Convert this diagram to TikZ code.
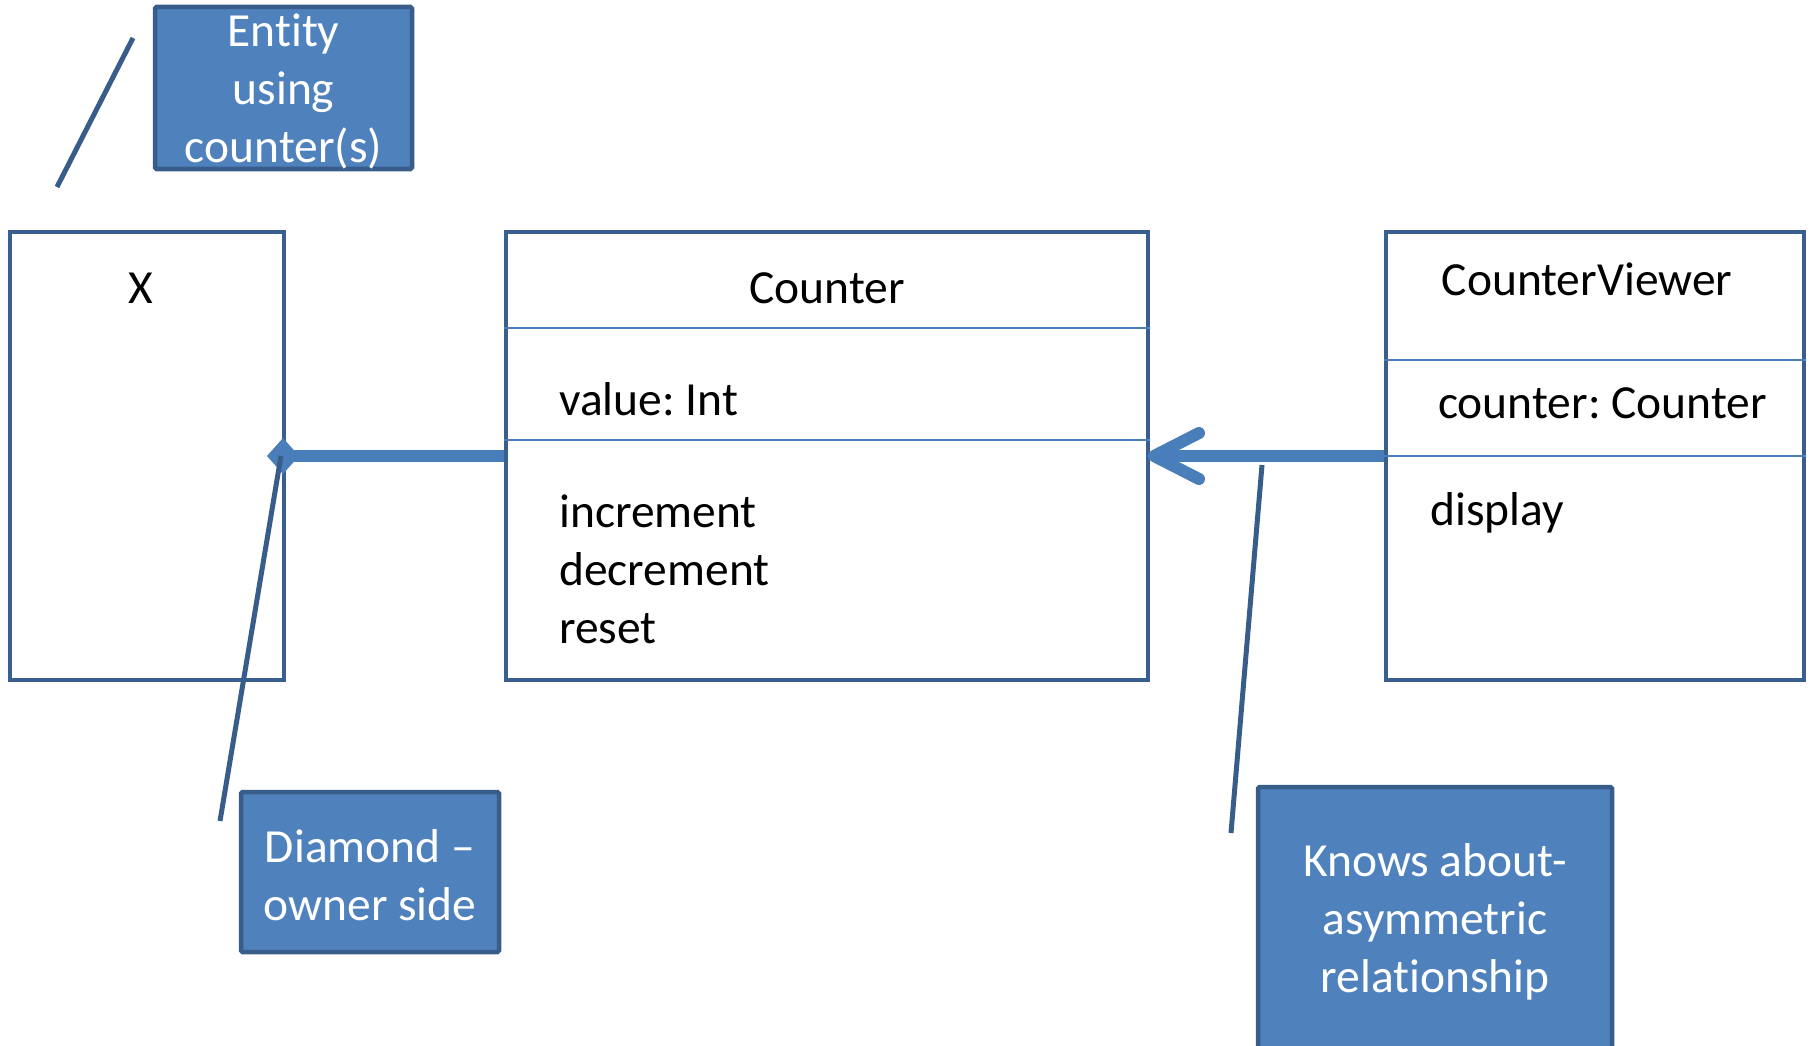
\documentclass[tikz,border=0pt]{standalone}
\usepackage{fontspec}
\setmainfont{Carlito}[Ligatures=NoCommon]
\usetikzlibrary{calc}
\definecolor{boxline}{HTML}{3A5F8F}
\definecolor{calfill}{HTML}{4F81BD}
\definecolor{calline}{HTML}{385D8A}
\definecolor{conn}{HTML}{4A7EBB}
\frenchspacing
\tikzset{
  umlbox/.style={draw=boxline, line width=4pt, fill=white, inner sep=0pt},
  divider/.style={draw=conn, line width=2.2pt},
  txt/.style={inner sep=0pt, font=\fontsize{47.5}{58}\selectfont, text=black},
  callout/.style={draw=calline, fill=calfill, line width=4.5pt, rounded corners=1.5pt, inner sep=0pt},
  caltext/.style={inner sep=0pt, font=\fontsize{47.5}{58}\selectfont, text=white, align=center},
  leader/.style={draw=calline, line width=5pt},
  connline/.style={draw=conn, line width=12pt},
}
\begin{document}
\begin{tikzpicture}[x=1pt, y=-1pt]
\useasboundingbox (0,0) rectangle (1810,1046);
% boxes
\node[umlbox, minimum width=274pt, minimum height=448pt] (xb) at (147,456) {};
\node[umlbox, minimum width=642pt, minimum height=448pt] (counter) at (827,456) {};
\node[umlbox, minimum width=418pt, minimum height=448pt] (cv) at (1595,456) {};
% dividers
\draw[divider] (counter.west |- 0,328) coordinate (d1a) -- (counter.east |- 0,328) coordinate (d1b);
\draw[divider] (counter.west |- 0,440) coordinate (d2a) -- (counter.east |- 0,440) coordinate (d2b);
\draw[divider] (cv.west |- 0,360) coordinate (d3a) -- (cv.east |- 0,360) coordinate (d3b);
\draw[divider] (cv.west |- 0,456) coordinate (d4a) -- (cv.east |- 0,456) coordinate (d4b);
% texts
\node[txt, anchor=base] (tx) at (141,303) {X};
\node[txt, anchor=base] (tc) at (827,303) {Counter};
\node[txt, anchor=base west] (tv) at (559,415) {value: Int};
\node[txt, anchor=base west] (t1) at (559,527) {increment};
\node[txt, anchor=base west] (t2) at (559,585) {decrement};
\node[txt, anchor=base west] (t3) at (559,643) {reset};
\node[txt, anchor=base] (tcv) at (1587,295) {CounterViewer};
\node[txt, anchor=base west] (tcc) at (1438,418) {counter: Counter};
\node[txt, anchor=base west] (td) at (1430,525) {display};
% connectors
\draw[connline] (xb.east) -- (counter.west);
\fill[conn] ($(xb.east)+(-19,0)$) -- ($(xb.east)+(-3,-18)$) -- ($(xb.east)+(13,0)$) -- ($(xb.east)+(-3,18)$) -- cycle;
\draw[connline] (cv.west) -- ($(counter.east)+(6,0)$);
\draw[connline, line cap=round, line join=round] ($(counter.east)+(49,-23)$) -- ($(counter.east)+(4,0)$) -- ($(counter.east)+(49,23)$);
% callouts
\node[callout, minimum width=257pt, minimum height=162pt] (c1) at (283.5,88) {};
\node[caltext] (c1t) at ($(c1.center)+(0,3.5)$) {Entity\\using\\counter(s)};
\node[callout, minimum width=258pt, minimum height=160pt] (c2) at (370,872) {};
\node[caltext] (c2t) at ($(c2.center)+(0,3)$) {Diamond –\\owner side};
\node[callout, minimum width=354pt, minimum height=262pt] (c3) at (1435,918) {};
\node[caltext] (c3t) at ($(c3.center)+(0,3.5)$) {Knows about-\\asymmetric\\relationship};
% leader lines
\coordinate (l1a) at (133,38);
\coordinate (l1b) at (57,187);
\draw[leader] (l1a) -- (l1b);
\coordinate (l2a) at (220,821);
\coordinate (l2b) at (281,456);
\draw[leader] (l2a) -- (l2b);
\coordinate (l3a) at (1231,833);
\coordinate (l3b) at (1262,465);
\draw[leader] (l3a) -- (l3b);
\end{tikzpicture}
\end{document}
